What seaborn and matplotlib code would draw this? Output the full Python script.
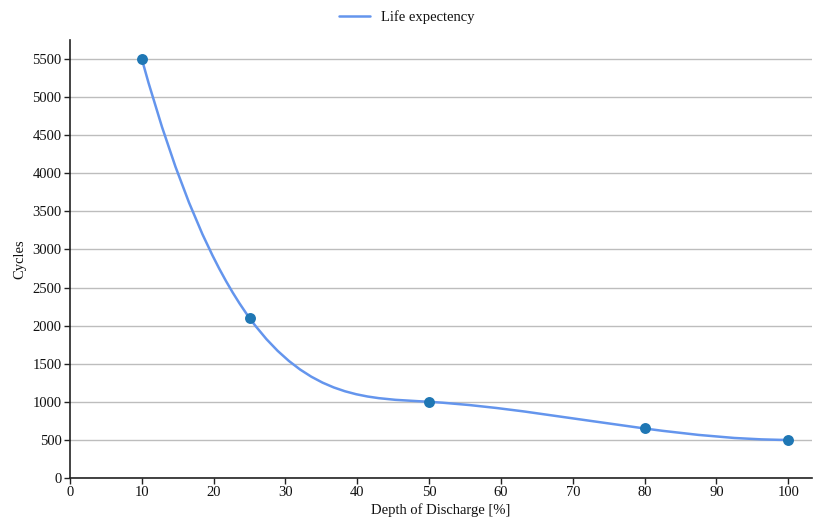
import matplotlib
matplotlib.use("Agg")
import matplotlib.pyplot as plt
import seaborn as sns
import numpy as np
import pandas as pd
from matplotlib.path import Path
from matplotlib.patches import PathPatch
from matplotlib.lines import Line2D

depth = [10, 25, 50, 80, 100]
cycles = [5500, 2100, 1000, 650, 500]
series_name = "Life expectency"
x_label = "Depth of Discharge [%]"
y_label = "Cycles"
x_ticks = [0, 10, 20, 30, 40, 50, 60, 70, 80, 90, 100]
y_ticks = [0, 500, 1000, 1500, 2000, 2500, 3000, 3500, 4000, 4500, 5000, 5500]

df = pd.DataFrame({"depth": depth, "cycles": cycles})

sns.set_theme(style="white")
plt.rcParams['font.family'] = ['Liberation Serif', 'DejaVu Serif']

fig = plt.figure(figsize=(8.13, 5.22), dpi=100)
ax = fig.add_axes([0.0861, 0.0843, 0.9127, 0.8391])

LINE = "#6495ED"
DOT = "#1f77b4"

ax.set_xlim(0, 103.3)
ax.set_ylim(0, 5750)

# smooth (not-a-knot cubic spline) rendering of the data as exact Bezier segments
xs = np.array(depth, float)
ys = np.array(cycles, float)
n = len(xs)
h = np.diff(xs)
A = np.zeros((n, n))
rhs = np.zeros(n)
for i in range(1, n - 1):
    A[i, i - 1] = h[i - 1]
    A[i, i] = 2 * (h[i - 1] + h[i])
    A[i, i + 1] = h[i]
    rhs[i] = 6 * ((ys[i + 1] - ys[i]) / h[i] - (ys[i] - ys[i - 1]) / h[i - 1])
A[0, 0], A[0, 1], A[0, 2] = -1 / h[0], 1 / h[0] + 1 / h[1], -1 / h[1]
A[-1, -3], A[-1, -2], A[-1, -1] = -1 / h[-2], 1 / h[-2] + 1 / h[-1], -1 / h[-1]
M = np.linalg.solve(A, rhs)

verts = [(xs[0], ys[0])]
codes = [Path.MOVETO]
for i in range(n - 1):
    sec = (ys[i + 1] - ys[i]) / h[i]
    d0 = sec - h[i] * (2 * M[i] + M[i + 1]) / 6
    d1 = sec + h[i] * (M[i] + 2 * M[i + 1]) / 6
    verts += [(xs[i] + h[i] / 3, ys[i] + h[i] * d0 / 3),
              (xs[i + 1] - h[i] / 3, ys[i + 1] - h[i] * d1 / 3),
              (xs[i + 1], ys[i + 1])]
    codes += [Path.CURVE4] * 3
patch = PathPatch(Path(verts, codes), facecolor="none", edgecolor=LINE, lw=1.8, zorder=3)
ax.add_patch(patch)

sns.scatterplot(data=df, x="depth", y="cycles", ax=ax, color=DOT, s=62,
                edgecolor=DOT, linewidth=0, zorder=4, legend=False)

ax.set_xticks(x_ticks)
ax.set_yticks(y_ticks)
ax.yaxis.grid(True, color="#bdbdbd", lw=1)
ax.xaxis.grid(False)
ax.set_axisbelow(True)
for s in ["top", "right"]:
    ax.spines[s].set_visible(False)
for s in ["left", "bottom"]:
    ax.spines[s].set_color("#222222")
    ax.spines[s].set_linewidth(1.2)
ax.tick_params(axis="both", direction="out", length=4, width=1, color="#222222",
               labelsize=10.5, labelcolor="#111111", bottom=True, left=True, pad=2)
ax.set_xlabel(x_label, fontsize=10.5, color="#111111", labelpad=3)
ax.set_ylabel(y_label, fontsize=10.5, color="#111111", labelpad=4)

handle = Line2D([0], [0], color=LINE, lw=1.8)
fig.legend([handle], [series_name], loc="upper center", bbox_to_anchor=(0.5, 1.005),
           frameon=False, fontsize=10.5, handlelength=2.1, handletextpad=0.75,
           labelcolor="#111111")

fig.savefig("out.png", dpi=100)
